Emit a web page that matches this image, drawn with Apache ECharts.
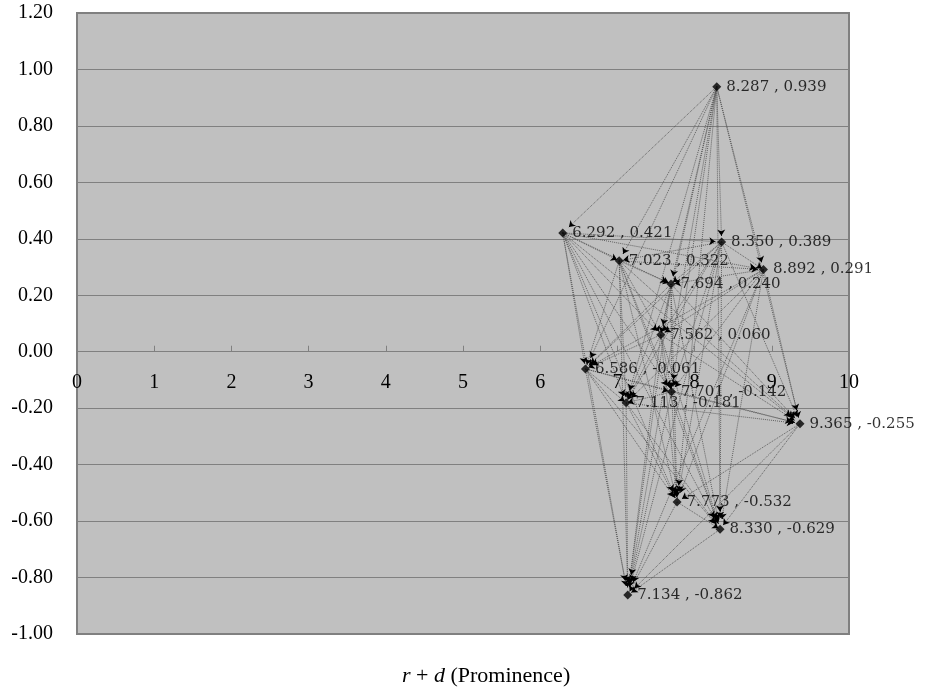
<!DOCTYPE html>
<html>
<head>
<meta charset="utf-8">
<script src="https://cdn.jsdelivr.net/npm/echarts@6/dist/echarts.min.js"></script>
<style>html,body{margin:0;padding:0;background:#fff;}#c{width:930px;height:690px;}</style>
</head>
<body>
<div id="c"></div>
<script>
// r + d (Prominence)
var xValues = [8.287, 6.292, 8.350, 7.023, 8.892, 7.694, 7.562, 6.586, 7.701, 7.113, 9.365, 7.773, 8.330, 7.134];
// r - d (Relation)
var yValues = [0.939, 0.421, 0.389, 0.322, 0.291, 0.240, 0.060, -0.061, -0.142, -0.181, -0.255, -0.532, -0.629, -0.862];
var xTicks = [0, 1, 2, 3, 4, 5, 6, 7, 8, 9, 10];
var yTicks = [-1.00, -0.80, -0.60, -0.40, -0.20, 0.00, 0.20, 0.40, 0.60, 0.80, 1.00, 1.20];

var points = xValues.map(function (x, i) { return [x, yValues[i]]; });

function along(a, b, t) { return [a[0] + (b[0] - a[0]) * t, a[1] + (b[1] - a[1]) * t]; }

// influence arrows: from each factor to every factor with a lower relation value
var arrowLines = [], arrowHeads = [];
for (var i = 0; i < points.length; i++) {
  for (var j = 0; j < points.length; j++) {
    if (i !== j && points[i][1] > points[j][1]) {
      var a = points[i], b = points[j];
      arrowLines.push({ coords: [a, along(a, b, 0.96)] });
      arrowHeads.push({ coords: [along(a, b, 0.955), along(a, b, 0.96)] });
    }
  }
}

var gridTop = 13, gridBottom = 56, chartH = 690;
var gridH = chartH - gridTop - gridBottom;
var yMin = yTicks[0], yMax = yTicks[yTicks.length - 1];
var zeroOffset = -gridH * (0 - yMin) / (yMax - yMin);

var chart = echarts.init(document.getElementById('c'), null, { renderer: 'canvas' });
var axisFont = 'Liberation Serif';
chart.setOption({
  animation: false,
  backgroundColor: '#ffffff',
  title: {
    text: '{i|r} + {i|d} (Prominence)',
    left: 397,
    top: 660,
    textStyle: {
      fontFamily: axisFont, fontSize: 22, fontWeight: 'normal', color: '#000',
      rich: { i: { fontFamily: axisFont, fontSize: 22, fontStyle: 'italic', color: '#000' } }
    }
  },
  grid: {
    left: 77, right: 81, top: gridTop, bottom: gridBottom,
    show: true, backgroundColor: '#c0c0c0', borderColor: '#808080', borderWidth: 2
  },
  xAxis: {
    type: 'value',
    position: 'bottom',
    offset: zeroOffset,
    min: xTicks[0], max: xTicks[xTicks.length - 1], interval: 1,
    axisLine: { show: true, onZero: false, lineStyle: { color: '#808080', width: 1 } },
    axisTick: { show: true, inside: true, length: 6, lineStyle: { color: '#808080' } },
    splitLine: { show: false },
    axisLabel: { margin: 21, fontFamily: axisFont, fontSize: 20, color: '#000' }
  },
  yAxis: {
    type: 'value',
    min: yMin, max: yMax, interval: 0.2,
    axisLine: { show: true, lineStyle: { color: '#808080', width: 2 } },
    axisTick: { show: false },
    splitLine: { show: true, lineStyle: { color: '#808080', width: 1 } },
    axisLabel: {
      margin: 24, fontFamily: axisFont, fontSize: 20, color: '#000',
      formatter: function (v) { return v.toFixed(2); }
    }
  },
  series: [
    {
      type: 'lines',
      coordinateSystem: 'cartesian2d',
      silent: true,
      z: 2,
      symbol: ['none', 'none'],
      lineStyle: { type: 'dotted', color: '#505050', width: 1, opacity: 0.85 },
      data: arrowLines
    },
    {
      type: 'lines',
      coordinateSystem: 'cartesian2d',
      silent: true,
      z: 3,
      symbol: ['none', 'arrow'],
      symbolSize: 6,
      lineStyle: { type: 'solid', color: '#000000', width: 1, opacity: 1 },
      data: arrowHeads
    },
    {
      type: 'scatter',
      z: 4,
      symbol: 'diamond',
      symbolSize: 9,
      itemStyle: { color: '#000' },
      label: {
        show: true,
        position: 'right',
        distance: 5,
        fontFamily: 'DejaVu Serif',
        fontSize: 15,
        color: '#000',
        formatter: function (p) { return p.value[0].toFixed(3) + ' , ' + p.value[1].toFixed(3); }
      },
      data: points
    }
  ]
});
</script>
</body>
</html>
